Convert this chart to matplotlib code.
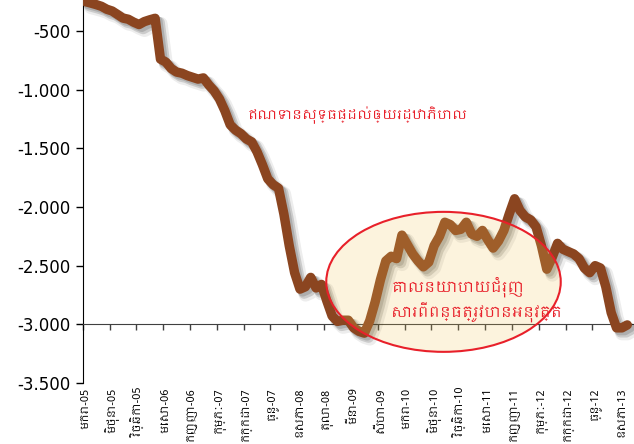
import numpy as np
import matplotlib
matplotlib.use('Agg')
import matplotlib.pyplot as plt
import matplotlib.patheffects as pe
from matplotlib.patches import Ellipse
from matplotlib.ticker import FuncFormatter, FixedLocator
from matplotlib import font_manager

# net credit to government, monthly, Jan-05 .. Jun-13
credit = [-250, -262, -275, -290, -315, -330, -360, -390, -400, -425,
          -445, -420, -405, -392, -740, -765, -820, -850, -860, -880,
          -895, -910, -900, -960, -1010, -1080, -1180, -1300, -1345, -1375,
          -1420, -1445, -1530, -1640, -1760, -1810, -1840, -2060, -2330, -2560,
          -2700, -2680, -2600, -2690, -2660, -2800, -2930, -2975, -2965, -2965,
          -3030, -3060, -3075, -2970, -2810, -2620, -2460, -2420, -2440, -2240,
          -2320, -2400, -2460, -2510, -2470, -2330, -2250, -2130, -2150, -2200,
          -2190, -2130, -2230, -2250, -2200, -2280, -2350, -2290, -2200, -2060,
          -1930, -2030, -2085, -2110, -2170, -2330, -2530, -2430, -2310, -2360,
          -2380, -2400, -2440, -2520, -2560, -2500, -2520, -2680, -2900, -3030,
          -3030, -3005]

tick_labels = ['មករា-05', 'មិថុនា-05', 'វិច្ឆិកា-05', 'មេសា-06', 'កញ្ញា-06',
               'កុម្ភៈ-07', 'កក្កដា-07', 'ធ្នូ-07', 'ឧសភា-08', 'តុលា-08',
               'មីនា-09', 'សីហា-09', 'មករា-10', 'មិថុនា-10', 'វិច្ឆិកា-10',
               'មេសា-11', 'កញ្ញា-11', 'កុម្ភៈ-12', 'កក្កដា-12', 'ធ្នូ-12',
               'ឧសភា-13']
label_step = 5

series_label = 'ឥណទានសុទ្ធផ្ដល់ឲ្យរដ្ឋាភិបាល'
note_label = 'គោលនយោបាយជំរុញ\nសារពើពន្ធត្រូវបានអនុវត្ត'

# use a Khmer font if the machine has one
kh = sorted(set(f.name for f in font_manager.fontManager.ttflist if 'Khmer' in f.name))
fam = kh + ['DejaVu Sans']

x = np.arange(len(credit))

fig = plt.figure(figsize=(6.34, 4.44), dpi=100)
ax = fig.add_axes([0.1304, 0.1374, 0.87, 0.8626])

brown = '#8B4520'
ax.plot(x, credit, color=brown, lw=6.8, solid_joinstyle='round',
        solid_capstyle='round', zorder=3,
        path_effects=[pe.SimpleLineShadow(offset=(4, -4), shadow_color='black', alpha=0.07, linewidth=10),
                      pe.SimpleLineShadow(offset=(3, -3), shadow_color='black', alpha=0.14, linewidth=8),
                      pe.SimpleLineShadow(offset=(2, -2), shadow_color='black', alpha=0.14, linewidth=6.8),
                      pe.Normal()])

# ellipse over the line
ell = Ellipse((66.75, -2638), 43.7, 1193, facecolor=(0.94, 0.77, 0.34, 0.2),
              edgecolor='#E8202A', lw=1.5, zorder=4)
ax.add_patch(ell)

red = '#E8202A'
ax.text(50.8, -1216, series_label, color=red, fontsize=9.5, family=fam,
        ha='center', va='center', zorder=5)
ax.text(57, -2790, note_label, color=red, fontsize=10.5, family=fam,
        ha='left', va='center', linespacing=1.3, zorder=5)

ax.set_xlim(-0.5, len(credit) + 0.3)
ax.set_ylim(-3500, -236)

ax.yaxis.set_major_locator(FixedLocator(np.arange(-3500, -499, 500)))
ax.yaxis.set_major_formatter(FuncFormatter(lambda v, p: f'{v:,.0f}'.replace(',', '.')))
ax.tick_params(axis='y', direction='out', length=5, width=1, labelsize=12, pad=4)

# x axis crosses at -3000, ticks between categories
ax.spines['bottom'].set_position(('data', -3000))
ax.spines['bottom'].set_color('#404040')
ax.spines['top'].set_visible(False)
ax.spines['right'].set_visible(False)
ax.xaxis.set_major_locator(FixedLocator(np.arange(-0.5, len(credit), label_step)))
ax.tick_params(axis='x', direction='out', length=4, width=1, color='#404040', labelbottom=False)

trans = ax.get_xaxis_transform()
for k, lab in enumerate(tick_labels):
    ax.text(k * label_step, -0.012, lab, transform=trans, rotation=90,
            ha='center', va='top', fontsize=8, family=fam, clip_on=False)

fig.savefig('out.png', dpi=100)
